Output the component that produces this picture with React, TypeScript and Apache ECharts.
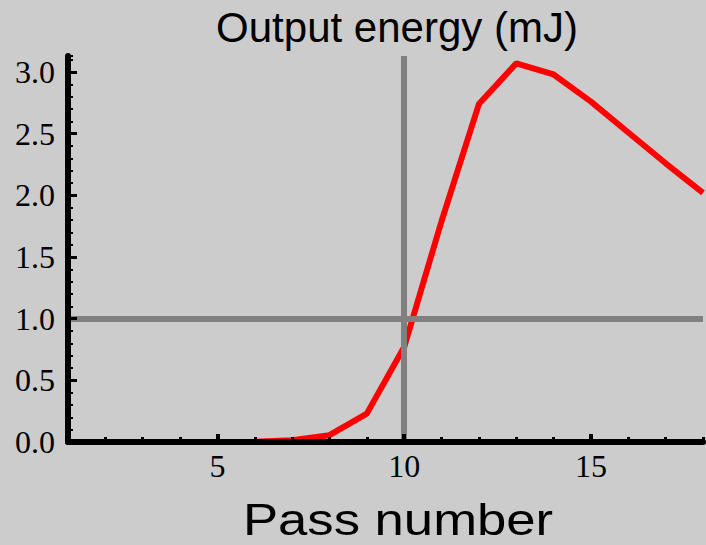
import React, { useEffect, useRef } from 'react';
import * as echarts from 'echarts';

const passNumbers = [1, 2, 3, 4, 5, 6, 7, 8, 9, 10, 11, 12, 13, 14, 15, 16, 17, 18];
const outputEnergy = [0, 0, 0, 0, 0, 0.003, 0.015, 0.055, 0.23, 0.77, 1.79, 2.74, 3.07, 2.98, 2.76, 2.51, 2.26, 2.02];
const xMajorTicks = [5, 10, 15];
const yMajorTicks = [0, 0.5, 1.0, 1.5, 2.0, 2.5, 3.0];
const refPass = 10;
const refEnergy = 1;
const titleText = 'Output energy (mJ)';
const xAxisTitle = 'Pass number';

export default function App() {
  const ref = useRef<HTMLDivElement>(null);
  useEffect(() => {
    const chart = echarts.init(ref.current!, null, { renderer: 'svg' });
    const xMin = 1, xMax = 18, yMin = 0, yMax = 3.13;
    const serif = "'Liberation Serif', 'Times New Roman', Times, serif";
    const tickLabelStyle = { fontFamily: serif, fontSize: 32, color: '#000' };
    chart.setOption({
      animation: false,
      backgroundColor: '#cccccc',
      grid: { left: 68, right: 0, top: 56, bottom: 103, containLabel: false },
      xAxis: [
        {
          type: 'value', min: xMin, max: xMax, interval: 1, position: 'bottom', z: 10,
          axisLine: { show: true, lineStyle: { color: '#000', width: 6 } },
          axisTick: { show: true, inside: true, length: 5, lineStyle: { color: '#000', width: 3 } },
          axisLabel: {
            ...tickLabelStyle, margin: 8,
            formatter: (v: number) => (xMajorTicks.includes(Math.round(v)) ? String(Math.round(v)) : ''),
          },
          splitLine: { show: false },
        },
        {
          type: 'value', min: xMin, max: xMax, position: 'bottom', offset: 0, z: 10,
          axisLine: { show: false },
          axisTick: { show: true, inside: true, length: 8, customValues: xMajorTicks, lineStyle: { color: '#000', width: 4 } },
          axisLabel: { show: false },
          splitLine: { show: false },
        },
      ],
      yAxis: [
        {
          type: 'value', min: yMin, max: yMax, interval: 0.1, position: 'left', z: 10,
          axisLine: { show: true, lineStyle: { color: '#000', width: 6 } },
          axisTick: { show: true, inside: true, length: 5, lineStyle: { color: '#000', width: 2 } },
          axisLabel: {
            ...tickLabelStyle, margin: 13,
            formatter: (v: number) => {
              const r = Math.round(v * 10);
              return r % 5 === 0 && v <= 3.0001 ? (r / 10).toFixed(1) : '';
            },
          },
          splitLine: { show: false },
        },
        {
          type: 'value', min: yMin, max: yMax, position: 'left', offset: 0, z: 10,
          axisLine: { show: false },
          axisTick: { show: true, inside: true, length: 9, customValues: yMajorTicks, lineStyle: { color: '#000', width: 3 } },
          axisLabel: { show: false },
          splitLine: { show: false },
        },
      ],
      series: [
        {
          type: 'line', data: [], z: 1, clip: false, silent: true,
          markLine: {
            silent: true, symbol: ['none', 'none'], animation: false,
            label: { show: false },
            lineStyle: { color: '#808080', width: 6, type: 'solid' },
            data: [
              { xAxis: refPass },
              { yAxis: refEnergy },
            ],
          },
        },
        {
          type: 'line', z: 3, symbol: 'none', clip: true,
          data: passNumbers.map((p, i) => [p, outputEnergy[i]]),
          lineStyle: { color: '#ff0000', width: 6 },
          itemStyle: { color: '#ff0000' },
        },
      ],
      graphic: [
        {
          type: 'text', x: 397, y: 27, z: 20,
          style: { text: titleText, fontFamily: 'Liberation Sans', fontSize: 42, fill: '#000', align: 'center', verticalAlign: 'middle' },
        },
        {
          type: 'text', x: 398, y: 519, z: 20, scaleX: 1.17,
          style: { text: xAxisTitle, fontFamily: 'Liberation Sans', fontSize: 45, fill: '#000', align: 'center', verticalAlign: 'middle' },
        },
      ],
    });
    return () => chart.dispose();
  }, []);
  return <div ref={ref} style={{ position: 'fixed', left: 0, top: 0, width: 706, height: 545 }} />;
}
